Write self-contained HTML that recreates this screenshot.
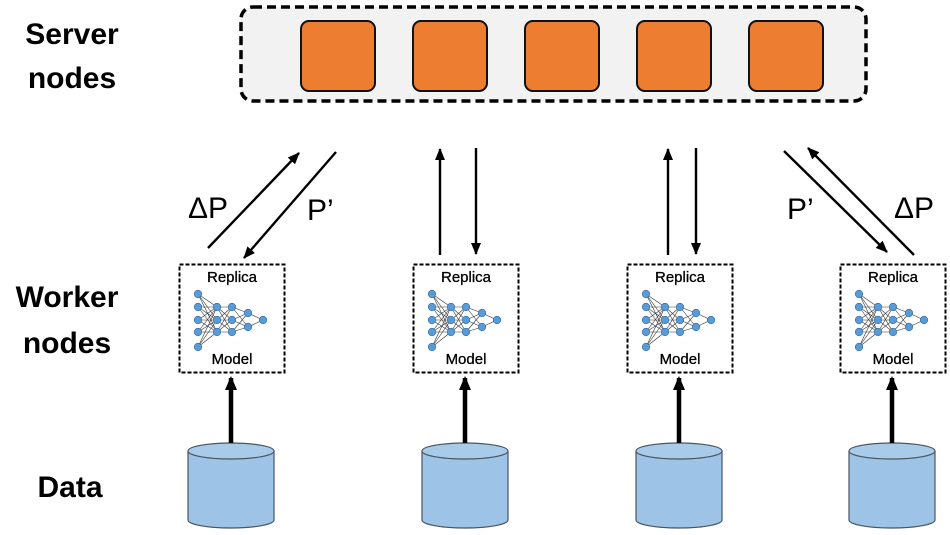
<!DOCTYPE html>
<html><head><meta charset="utf-8"><style>
html,body{margin:0;padding:0;background:#fff;}
svg{display:block;}
text{font-family:"Liberation Sans",Arial,sans-serif;}
</style></head><body>
<svg width="950" height="535" viewBox="0 0 950 535" xmlns="http://www.w3.org/2000/svg">
<defs>
<marker id="ah" markerWidth="12" markerHeight="10" refX="11" refY="5" orient="auto" markerUnits="userSpaceOnUse" viewBox="0 0 12 10">
<path d="M0,0 L12,5 L0,10 z" fill="#000"/>
</marker>
<marker id="ah2" markerWidth="14" markerHeight="12" refX="12" refY="6" orient="auto" markerUnits="userSpaceOnUse" viewBox="0 0 14 12">
<path d="M0,0 L14,6 L0,12 z" fill="#000"/>
</marker>
<g id="net">
<g stroke="#333" stroke-width="0.6" fill="none">
<path d="M198,294 L217,307 M198,294 L217,320 M198,294 L217,332 M198,307 L217,307 M198,307 L217,320 M198,307 L217,332 M198,320 L217,307 M198,320 L217,320 M198,320 L217,332 M198,332 L217,307 M198,332 L217,320 M198,332 L217,332 M198,347 L217,307 M198,347 L217,320 M198,347 L217,332"/>
<path d="M217,307 L232,307 M217,307 L232,320 M217,307 L232,332 M217,320 L232,307 M217,320 L232,320 M217,320 L232,332 M217,332 L232,307 M217,332 L232,320 M217,332 L232,332"/>
<path d="M232,307 L248,313 M232,307 L248,327 M232,320 L248,313 M232,320 L248,327 M232,332 L248,313 M232,332 L248,327 M248,313 L263,320 M248,327 L263,320"/>
</g>
<g fill="#5b9bd5" stroke="#2e6da4" stroke-width="0.6">
<circle cx="198" cy="294" r="3.8"/><circle cx="198" cy="307" r="3.8"/><circle cx="198" cy="320" r="3.8"/><circle cx="198" cy="332" r="3.8"/><circle cx="198" cy="347" r="3.8"/>
<circle cx="217" cy="307" r="3.8"/><circle cx="217" cy="320" r="3.8"/><circle cx="217" cy="332" r="3.8"/>
<circle cx="232" cy="307" r="3.8"/><circle cx="232" cy="320" r="3.8"/><circle cx="232" cy="332" r="3.8"/>
<circle cx="248" cy="313" r="3.8"/><circle cx="248" cy="327" r="3.8"/>
<circle cx="263" cy="320" r="3.8"/>
</g>
<rect x="179.5" y="264.5" width="105" height="108" fill="none" stroke="#000" stroke-width="2" stroke-dasharray="4,2"/>
</g>
<g id="cyl">
<path d="M188,451 L188,520 A43,8 0 0 0 274,520 L274,451" fill="#9dc3e6" stroke="#4a5560" stroke-width="1.2"/>
<ellipse cx="231" cy="451" rx="43" ry="8" fill="#a9cbea" stroke="#4a5560" stroke-width="1.2"/>
</g>
</defs>

<g font-weight="bold" font-size="30" fill="#000">
<text x="72" y="44" text-anchor="middle">Server</text>
<text x="72" y="88" text-anchor="middle">nodes</text>
<text x="67" y="307" text-anchor="middle">Worker</text>
<text x="67" y="353" text-anchor="middle">nodes</text>
<text x="70" y="497" text-anchor="middle">Data</text>
</g>

<rect x="241" y="7" width="625" height="94" rx="12" fill="#f2f2f2" stroke="#000" stroke-width="3.5" stroke-dasharray="9,5"/>
<g fill="#ed7d31" stroke="#111" stroke-width="2">
<rect x="301" y="21" width="74" height="70" rx="8"/>
<rect x="413" y="21" width="74" height="70" rx="8"/>
<rect x="525" y="21" width="74" height="70" rx="8"/>
<rect x="637" y="21" width="74" height="70" rx="8"/>
<rect x="749" y="21" width="74" height="70" rx="8"/>
</g>

<use href="#net" x="0"/>
<use href="#net" x="234"/>
<use href="#net" x="448"/>
<use href="#net" x="661"/>
<g font-size="15" text-anchor="middle" fill="#000" stroke="#000" stroke-width="0.3">
<text x="232" y="282">Replica</text><text x="232" y="364">Model</text>
<text x="466" y="282">Replica</text><text x="466" y="364">Model</text>
<text x="680" y="282">Replica</text><text x="680" y="364">Model</text>
<text x="893" y="282">Replica</text><text x="893" y="364">Model</text>
</g>

<use href="#cyl" x="0"/>
<use href="#cyl" x="234"/>
<use href="#cyl" x="448"/>
<use href="#cyl" x="661"/>

<g stroke="#000" stroke-width="4.5" marker-end="url(#ah2)">
<line x1="231" y1="443" x2="231" y2="378"/>
<line x1="465" y1="443" x2="465" y2="378"/>
<line x1="679" y1="443" x2="679" y2="378"/>
<line x1="892" y1="443" x2="892" y2="378"/>
</g>

<g stroke="#000" stroke-width="2.4" marker-end="url(#ah)">
<line x1="208" y1="248" x2="299" y2="153"/>
<line x1="336" y1="152" x2="244" y2="258"/>
<line x1="440" y1="255" x2="440" y2="149"/>
<line x1="476" y1="148" x2="476" y2="254"/>
<line x1="668" y1="255" x2="668" y2="149"/>
<line x1="696" y1="148" x2="696" y2="254"/>
<line x1="784" y1="151" x2="887" y2="252"/>
<line x1="914" y1="255" x2="808" y2="148"/>
</g>
<g font-size="30" fill="#000">
<text x="188" y="218">ΔP</text>
<text x="307" y="220">P’</text>
<text x="787" y="219">P’</text>
<text x="894" y="218">ΔP</text>
</g>
</svg>
</body></html>
